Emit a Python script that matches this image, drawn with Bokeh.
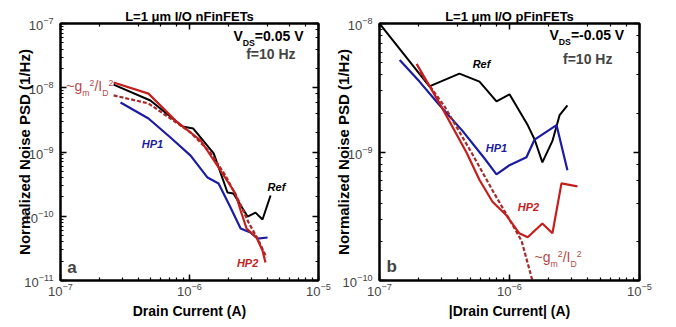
from bokeh.plotting import figure
from bokeh.models import LogAxis, Label
from bokeh.layouts import row
from bokeh.embed import file_html
from bokeh.resources import INLINE

# ---------------- data ----------------
# panel a: L=1 um I/O nFinFETs
n_ref_i = [2.58e-7, 4.98e-7, 8.83e-7, 1.07e-6, 1.54e-6, 1.97e-6, 2.19e-6, 2.82e-6, 3.25e-6, 3.68e-6, 4.25e-6]
n_ref_s = [1.12e-8, 6.34e-9, 2.49e-9, 2.32e-9, 9.5e-10, 2.34e-10, 2.26e-10, 9.9e-11, 1.14e-10, 8.9e-11, 2.1e-10]

n_hp1_i = [2.92e-7, 4.81e-7, 7.12e-7, 1.02e-6, 1.38e-6, 1.68e-6, 2.08e-6, 2.49e-6, 2.97e-6, 3.37e-6, 4.03e-6]
n_hp1_s = [5.89e-9, 3.32e-9, 1.68e-9, 8.8e-10, 4.0e-10, 3.24e-10, 1.37e-10, 6.44e-11, 5.58e-11, 4.5e-11, 4.67e-11]

n_hp2_i = [2.58e-7, 4.81e-7, 7.79e-7, 1.22e-6, 1.74e-6, 2.27e-6, 2.49e-6, 2.77e-6, 3.31e-6, 3.68e-6, 3.88e-6]
n_hp2_s = [1.21e-8, 8.1e-9, 3.09e-9, 1.51e-9, 5.15e-10, 2.26e-10, 1.23e-10, 6.44e-11, 4.67e-11, 2.93e-11, 1.9e-11]

n_fit_i = [2.58e-7, 4.81e-7, 7.12e-7, 1.02e-6, 1.45e-6, 1.9e-6, 2.4e-6, 2.87e-6, 3.43e-6, 3.95e-6]
n_fit_s = [7.6e-9, 5.7e-9, 3.32e-9, 2.01e-9, 9.8e-10, 4.3e-10, 1.76e-10, 8.0e-11, 4.2e-11, 2.28e-11]

# panel b: L=1 um I/O pFinFETs
p_ref_i = [1.0e-7, 2.42e-7, 4.12e-7, 5.88e-7, 7.94e-7, 1.0e-6, 1.38e-6, 1.56e-6, 1.79e-6, 2.14e-6, 2.43e-6, 2.79e-6]
p_ref_s = [1.0e-8, 3.24e-9, 4.07e-9, 3.53e-9, 2.48e-9, 2.81e-9, 1.62e-9, 1.25e-9, 8.3e-10, 1.22e-9, 1.94e-9, 2.31e-9]

p_hp1_i = [1.43e-7, 2.03e-7, 2.9e-7, 4.35e-7, 6.43e-7, 7.94e-7, 1.0e-6, 1.35e-6, 1.56e-6, 2.3e-6, 2.79e-6]
p_hp1_s = [5.2e-9, 3.53e-9, 2.31e-9, 1.46e-9, 8.9e-10, 6.7e-10, 7.9e-10, 9.1e-10, 1.25e-9, 1.62e-9, 7.2e-10]

p_hp2_i = [1.93e-7, 2.9e-7, 4.67e-7, 5.88e-7, 7.4e-7, 9.5e-7, 1.19e-6, 1.38e-6, 1.79e-6, 2.14e-6, 2.51e-6, 3.33e-6]
p_hp2_s = [4.85e-9, 2.39e-9, 9.9e-10, 6.05e-10, 4.1e-10, 3.2e-10, 2.33e-10, 2.17e-10, 2.78e-10, 2.33e-10, 5.7e-10, 5.4e-10]

p_fit_i = [2.03e-7, 3.16e-7, 5.1e-7, 7.67e-7, 1.04e-6, 1.24e-6, 1.5e-6]
p_fit_s = [4.2e-9, 2.27e-9, 9.9e-10, 4.72e-10, 2.78e-10, 2.03e-10, 1.0e-10]

titles = ["L=1 \u03bcm I/O nFinFETs", "L=1 \u03bcm I/O pFinFETs"]
x_labels = ["Drain Current (A)", "|Drain Current| (A)"]
y_label = "Normalized Noise PSD (1/Hz)"

# ---------------- styling ----------------
FONT = "Liberation Sans"
C_BLACK = "#000000"
C_BLUE = "#1c1ca0"
C_RED = "#c41e1e"
C_FIT = "#a52a2a"
C_FITTXT = "#b84848"

W = {'~': .584, 'g': .556, 'm': .833, '2': .556, '/': .278, 'I': .278, 'D': .722,
     'V': .667, 'S': .667, '=': .584, '0': .556, '.': .278, '5': .556, ' ': .278, '-': .333}


def tw(s, fs):
    return sum(W.get(c, .6) for c in s) * fs


def rich(p, x, y, parts, color, size, style="normal", sub=-7, sup=3):
    off = 0.0
    for text, role in parts:
        fs = size if role == "n" else round(size * 0.62, 1)
        dy = 0 if role == "n" else (sub if role == "sub" else sup)
        p.add_layout(Label(x=x, y=y, x_offset=off, y_offset=dy, text=text,
                           text_font=FONT, text_font_size=f"{fs}px", text_font_style=style,
                           text_color=color, text_align="left", text_baseline="middle"))
        off += tw(text, fs)


def make(xr, yr, title, xlabel, bl, br, bt, fw, fh):
    p = figure(x_axis_type="log", y_axis_type="log", x_range=xr, y_range=yr,
               frame_width=fw, frame_height=fh,
               min_border_left=bl, min_border_right=br, min_border_top=bt, min_border_bottom=47,
               output_backend="svg", toolbar_location=None)
    p.background_fill_color = "white"
    p.border_fill_color = "white"
    p.grid.visible = False
    p.outline_line_color = "black"
    p.outline_line_width = 2
    p.title.text = title
    p.title.align = "center"
    p.title.text_font = FONT
    p.title.text_font_size = "13px"
    p.title.text_font_style = "bold"
    p.title.text_color = "black"
    p.title.standoff = 0
    p.add_layout(LogAxis(), "above")
    p.add_layout(LogAxis(), "right")
    for ax in p.axis:
        ax.axis_line_width = 2
        ax.axis_line_color = "black"
        ax.major_tick_in = 6
        ax.major_tick_out = 0
        ax.minor_tick_in = 3
        ax.minor_tick_out = 0
        ax.major_tick_line_width = 1.5
        ax.minor_tick_line_width = 1.2
        ax.major_label_text_font = FONT
        ax.major_label_text_font_size = "13px"
        ax.major_label_text_color = "#444444"
        ax.major_label_standoff = 7
    for ax in (p.above[0], p.right[0]):
        ax.major_label_text_font_size = "0px"
        ax.major_label_text_alpha = 0
        ax.major_label_standoff = 0
    xb = p.below[0]
    yl = p.left[0]
    xb.major_label_standoff = 2
    xb.axis_label = xlabel
    yl.axis_label = y_label
    for ax, fs in ((xb, "14px"), (yl, "15px")):
        ax.axis_label_text_font = FONT
        ax.axis_label_text_font_size = fs
        ax.axis_label_text_font_style = "bold"
        ax.axis_label_text_color = "black"
    xb.axis_label_standoff = 4
    yl.axis_label_standoff = -12
    return p


# ---------------- panel a ----------------
pa = make((1e-7, 1e-5), (1e-11, 1e-7), titles[0], x_labels[0], 60, 13, 23, 258, 257)
pa.line(n_ref_i, n_ref_s, line_color=C_BLACK, line_width=2)
pa.line(n_hp1_i, n_hp1_s, line_color=C_BLUE, line_width=2.2)
pa.line(n_fit_i, n_fit_s, line_color=C_FIT, line_width=2.2, line_dash="4 2")
pa.line(n_hp2_i, n_hp2_s, line_color=C_RED, line_width=2.2)

lab = dict(text_font=FONT, text_font_size="11px", text_font_style="bold italic",
           text_align="center", text_baseline="middle")
pa.add_layout(Label(x=5.16e-7, y=1.35e-9, text="HP1", text_color=C_BLUE, **lab))
pa.add_layout(Label(x=4.72e-6, y=2.9e-10, text="Ref", text_color=C_BLACK, **lab))
pa.add_layout(Label(x=2.82e-6, y=1.9e-11, text="HP2", text_color=C_RED, **lab))
pa.add_layout(Label(x=1.13e-7, y=1.62e-11, text="a", text_font=FONT, text_font_size="17px",
                    text_font_style="bold", text_baseline="middle"))
rich(pa, 2.19e-6, 6.5e-8, [("V", "n"), ("DS", "sub"), ("=0.05 V", "n")], "black", 14, "bold")
pa.add_layout(Label(x=6.64e-6, y=3.3e-8, text="f=10 Hz", text_font=FONT, text_font_size="14px",
                    text_font_style="bold", text_align="right", text_baseline="middle"))
rich(pa, 1.11e-7, 1.05e-8, [("~g", "n"), ("m", "sub"), ("2", "sup"), ("/I", "n"), ("D", "sub"), ("2", "sup")],
     C_FITTXT, 14)

# ---------------- panel b ----------------
pb = make((1e-7, 1e-5), (1e-10, 1e-8), titles[1], x_labels[1], 46, 36, 23, 260, 257)
pb.line(p_ref_i, p_ref_s, line_color=C_BLACK, line_width=2)
pb.line(p_hp1_i, p_hp1_s, line_color=C_BLUE, line_width=2.2)
pb.line(p_fit_i, p_fit_s, line_color=C_FIT, line_width=2.2, line_dash="4 2")
pb.line(p_hp2_i, p_hp2_s, line_color=C_RED, line_width=2.2)

pb.add_layout(Label(x=6.09e-7, y=4.8e-9, text="Ref", text_color=C_BLACK, **lab))
pb.add_layout(Label(x=7.94e-7, y=1.07e-9, text="HP1", text_color=C_BLUE, **lab))
pb.add_layout(Label(x=1.4e-6, y=3.7e-10, text="HP2", text_color=C_RED, **lab))
pb.add_layout(Label(x=1.13e-7, y=1.28e-10, text="b", text_font=FONT, text_font_size="17px",
                    text_font_style="bold", text_baseline="middle"))
rich(pb, 2.03e-6, 8.2e-9, [("V", "n"), ("DS", "sub"), ("=-0.05 V", "n")], "black", 14, "bold")
pb.add_layout(Label(x=6.19e-6, y=5.3e-9, text="f=10 Hz", text_font=FONT, text_font_size="14px",
                    text_font_style="bold", text_align="right", text_baseline="middle"))
rich(pb, 1.56e-6, 1.52e-10, [("~g", "n"), ("m", "sub"), ("2", "sup"), ("/I", "n"), ("D", "sub"), ("2", "sup")],
     C_FITTXT, 14)

layout = row(pa, pb)
open("out.html", "w").write(file_html(layout, INLINE))
